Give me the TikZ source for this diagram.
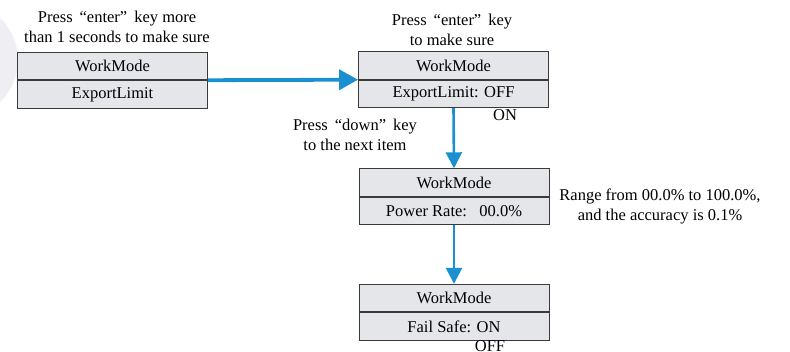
\documentclass[tikz,border=0pt]{standalone}
\usepackage{fontspec}
\setmainfont{Liberation Serif}
\usetikzlibrary{arrows.meta,positioning}

\definecolor{boxgray}{HTML}{E4E6EA}
\definecolor{framegray}{HTML}{3A3A3A}
\definecolor{arrowblue}{HTML}{1A90D0}
\definecolor{shadegray}{HTML}{EFEFF3}

\newcommand{\qgap}{\hspace{7pt}}

\tikzset{
  menurow/.style={draw=framegray,line width=0.9pt,fill=boxgray,minimum width=190pt,
    minimum height=27.5pt,inner sep=0pt,font=\fontsize{16.5}{20}\selectfont},
  hint/.style={align=center,inner sep=0pt,font=\fontsize{16.5}{20}\selectfont},
  bluearrow/.style={draw=arrowblue,line width=2.6pt,-{Triangle[length=16pt,width=16pt]}},
}

\begin{document}
\begin{tikzpicture}[x=1pt,y=-1pt]
  \useasboundingbox (0,0) rectangle (790,351);
  \fill[shadegray] (-40,60) circle [radius=58];

  % first screen
  \node [menurow] (wm1) at (112.5,66) {WorkMode};
  \node [menurow,below=0pt of wm1] (exp1) {ExportLimit};
  \node [hint] (tip1) at (117,27) {Press\qgap“enter”\qgap key more\\than 1 seconds to make sure};

  % second screen
  \node [menurow] (wm2) at (453.5,65.5) {WorkMode};
  \node [menurow,below=0pt of wm2] (exp2) {ExportLimit: OFF};
  \node [hint] (tip2) at (452,30) {Press\qgap“enter”\qgap key\\to make sure};
  \node [hint] (on) at (505,115) {ON};

  % third screen
  \node [menurow] (wm3) at (454,182.5) {WorkMode};
  \node [menurow,below=0pt of wm3] (rate) {Power Rate:\ \ \ 00.0\%};
  \node [hint] (tip3) at (355,135) {Press\qgap“down”\qgap key\\to the next item};
  \node [hint] (range) at (660,206) {Range from 00.0\% to 100.0\%,\\and the accuracy is 0.1\%};

  % fourth screen
  \node [menurow] (wm4) at (454,298) {WorkMode};
  \node [menurow,below=0pt of wm4] (fail) {Fail Safe: ON};
  \node [hint] (off) at (490,346) {OFF};

  \draw [bluearrow,line width=3.8pt,-{Triangle[length=19pt,width=20pt]}] (exp1.north east) -- (exp2.north west);
  \draw [bluearrow] (exp2.south) -- (wm3.north);
  \draw [bluearrow] (rate.south) -- (wm4.north);
\end{tikzpicture}
\end{document}
